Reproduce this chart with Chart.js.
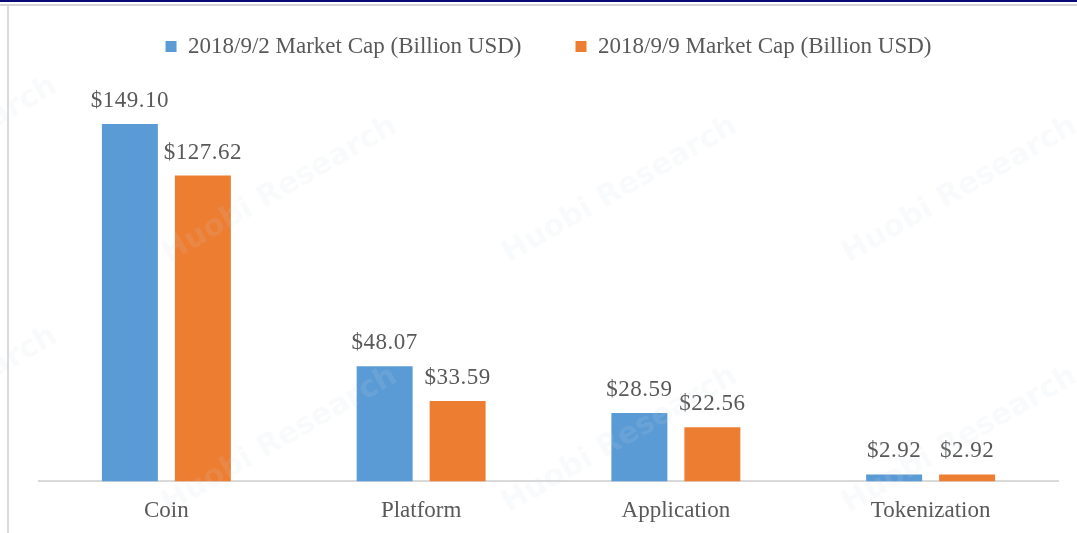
<!DOCTYPE html>
<html>
<head>
<meta charset="utf-8">
<script src="https://cdn.jsdelivr.net/npm/chart.js@4"></script>
<style>
  html, body { margin: 0; padding: 0; background: #fff; }
  #wrap { position: relative; width: 1077px; height: 533px; overflow: hidden; }
  #topbar { position: absolute; left: 0; top: 0; width: 1077px; height: 2px; background: #0b0b78; }
  #topline { position: absolute; left: 0; top: 4px; width: 1077px; height: 2px; background: #d6d6d6; }
  #leftline { position: absolute; left: 7px; top: 6px; width: 2px; height: 527px; background: #dadada; }
  canvas { position: absolute; left: 0; top: 0; }
</style>
</head>
<body>
<div id="wrap">
  <canvas id="c" width="1077" height="533"></canvas>
  <div id="topbar"></div>
  <div id="topline"></div>
  <div id="leftline"></div>
</div>
<script>
// chart data
const categories = ['Coin', 'Platform', 'Application', 'Tokenization'];
const capSep2 = [149.10, 48.07, 28.59, 2.92];
const capSep9 = [127.62, 33.59, 22.56, 2.92];
const seriesNames = ['2018/9/2 Market Cap (Billion USD)', '2018/9/9 Market Cap (Billion USD)'];

const FONT = '"Liberation Serif", "Times New Roman", serif';
const TEXT = '#595959';

// value labels above each bar
const valueLabels = {
  id: 'valueLabels',
  afterDatasetsDraw(chart) {
    const ctx = chart.ctx;
    ctx.save();
    ctx.font = '23px ' + FONT;
    ctx.letterSpacing = '0.5px';
    ctx.fillStyle = TEXT;
    ctx.textAlign = 'center';
    ctx.textBaseline = 'alphabetic';
    chart.data.datasets.forEach((ds, i) => {
      chart.getDatasetMeta(i).data.forEach((bar, j) => {
        ctx.fillText('$' + ds.data[j].toFixed(2), bar.x, bar.y - 17);
      });
    });
    ctx.restore();
  }
};

// faint "Huobi Research" watermark
const watermark = {
  id: 'watermark',
  afterDraw(chart) {
    const ctx = chart.ctx;
    const spots = [[-60, 150], [280, 190], [620, 190], [960, 190], [-60, 400], [280, 440], [620, 440], [960, 440]];
    ctx.save();
    ctx.font = 'bold 30px "DejaVu Sans", sans-serif';
    ctx.fillStyle = 'rgba(205, 212, 225, 0.12)';
    ctx.textAlign = 'center';
    ctx.textBaseline = 'middle';
    spots.forEach(([x, y]) => {
      ctx.save();
      ctx.translate(x, y);
      ctx.rotate(-0.52);
      ctx.fillText('Huobi Research', 0, 0);
      ctx.restore();
    });
    ctx.restore();
  }
};

// fixed legend height so the plot area sits where the original does
const legendHeight = {
  id: 'legendHeight',
  beforeInit(chart) {
    const fit = chart.legend.fit;
    chart.legend.fit = function () {
      fit.call(this);
      this.height = 117;
    };
  }
};

new Chart(document.getElementById('c'), {
  type: 'bar',
  data: {
    labels: categories,
    datasets: [
      {
        label: seriesNames[0],
        data: capSep2,
        backgroundColor: '#5b9bd5',
        barPercentage: 0.767,
        categoryPercentage: 0.573,
      },
      {
        label: seriesNames[1],
        data: capSep9,
        backgroundColor: '#ed7d31',
        barPercentage: 0.767,
        categoryPercentage: 0.573,
      },
    ],
  },
  options: {
    responsive: false,
    animation: false,
    layout: { padding: { left: 39, right: 19, top: -19, bottom: -8 } },
    plugins: {
      legend: {
        position: 'top',
        labels: {
          boxWidth: 11,
          boxHeight: 11,
          padding: 54,
          color: TEXT,
          font: { family: FONT, size: 23 },
        },
      },
      tooltip: { enabled: false },
    },
    scales: {
      x: {
        grid: { display: false, drawTicks: false },
        border: { display: true, color: '#d9d9d9', width: 2 },
        ticks: {
          padding: 16,
          color: TEXT,
          font: { family: FONT, size: 23 },
        },
      },
      y: {
        display: false,
        min: 0,
        max: 160,
      },
    },
  },
  plugins: [valueLabels, legendHeight, watermark],
});
</script>
</body>
</html>
